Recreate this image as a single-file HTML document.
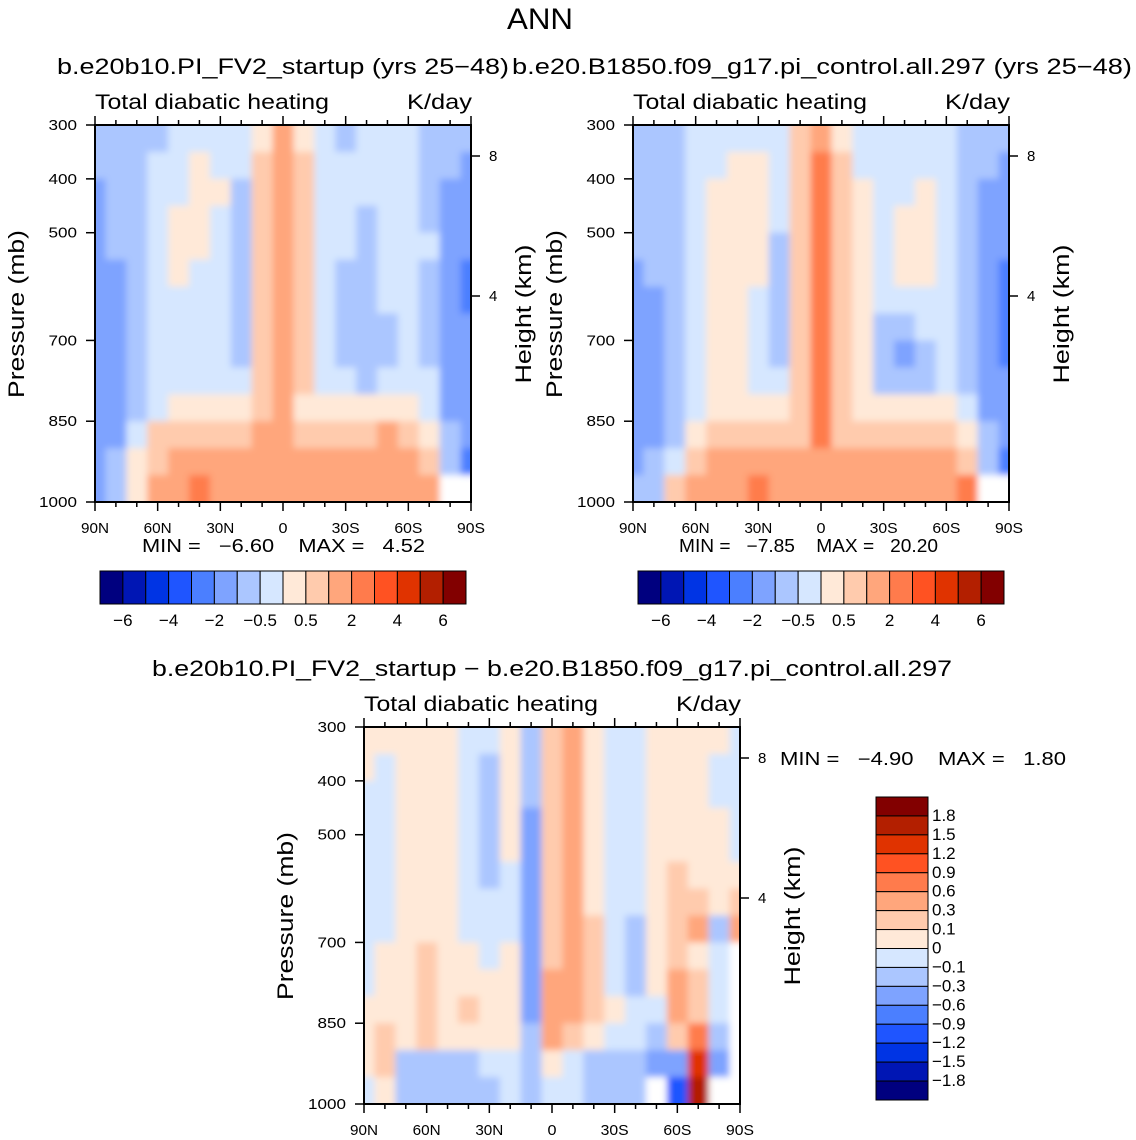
<!DOCTYPE html>
<html><head><meta charset="utf-8">
<style>
body{margin:0;background:#fff;}
svg{display:block;font-family:"Liberation Sans","DejaVu Sans",sans-serif;}
</style></head>
<body>
<svg id="chart" width="1136" height="1140" viewBox="0 0 1136 1140" xmlns="http://www.w3.org/2000/svg">
<defs><filter id="soft" x="-5%" y="-5%" width="110%" height="110%"><feGaussianBlur stdDeviation="3.5"/></filter></defs>
</svg>
<script>
const lats = [90,80,70,60,50,40,30,20,10,0,-10,-20,-30,-40,-50,-60,-70,-80,-90];
const plevs = [325,375,425,475,525,575,625,675,725,775,825,875,925,975];
const levelsTop = [-6,-5,-4,-3,-2,-1,-0.5,0,0.5,1,2,3,4,5,6];
const levelsDiff = [-1.8,-1.5,-1.2,-0.9,-0.6,-0.3,-0.1,0,0.1,0.3,0.6,0.9,1.2,1.5,1.8];
const cbLabelsTop = ["-6","-4","-2","-0.5","0.5","2","4","6"];
const cbLabelsDiff = ["1.8","1.5","1.2","0.9","0.6","0.3","0.1","0","-0.1","-0.3","-0.6","-0.9","-1.2","-1.5","-1.8"];
const colors = ["#00007f","#0016b4","#0034e4","#1f55ff","#4b7fff","#7ea3ff","#abc6ff","#d6e7ff","#ffe9d8","#ffcbad","#ffa67c","#ff7b4c","#ff5222","#e03300","#b31f00","#820000"];
const xTickLabels = ["90N","60N","30N","0","30S","60S","90S"];
const pTicks = [300,400,500,700,850,1000];

const field1 = [
[-1,-1,-1,-0.7,-0.3,-0.3,-0.3,-0.3,0.3,1.5,0.3,-0.3,-0.7,-0.3,-0.3,-0.3,-0.7,-1,-1],
[-1,-1,-0.7,-0.3,-0.3,0.3,-0.3,-0.3,0.7,1.5,0.7,-0.3,-0.3,-0.3,-0.3,-0.3,-0.7,-1,-1.5],
[-1.5,-1,-0.7,-0.3,-0.3,0.3,0.3,-0.7,0.7,1.5,0.7,-0.3,-0.3,-0.3,-0.3,-0.3,-0.7,-1.5,-1.5],
[-1.5,-1,-0.7,-0.3,0.3,0.3,-0.3,-0.7,0.7,1.5,0.7,-0.3,-0.3,-0.7,-0.3,-0.3,-0.7,-1.5,-2],
[-1.5,-1,-0.7,-0.3,0.3,0.3,-0.3,-0.7,0.7,1.5,0.7,-0.3,-0.3,-0.7,-0.3,-0.3,-0.3,-1.5,-2],
[-1.5,-1.5,-0.7,-0.3,0.3,-0.3,-0.3,-0.7,0.7,1.5,0.7,-0.3,-0.7,-0.7,-0.3,-0.3,-0.7,-1.5,-3],
[-1.5,-1.5,-0.7,-0.3,-0.3,-0.3,-0.3,-0.7,0.7,1.5,0.7,-0.3,-0.7,-0.7,-0.3,-0.3,-0.7,-1.5,-3],
[-2,-1.5,-0.7,-0.3,-0.3,-0.3,-0.3,-0.7,0.7,1.5,0.7,-0.3,-0.7,-0.7,-0.7,-0.3,-0.7,-1.5,-2],
[-2,-1.5,-0.7,-0.3,-0.3,-0.3,-0.3,-0.7,0.7,1.5,0.7,-0.3,-0.7,-0.7,-0.7,-0.3,-0.7,-1.5,-2],
[-2,-1.5,-0.7,-0.3,-0.3,-0.3,-0.3,-0.3,0.7,1.5,0.7,-0.3,-0.3,-0.7,-0.3,-0.3,-0.3,-1.5,-2],
[-2,-1.5,-0.7,-0.3,0.3,0.3,0.3,0.3,0.7,1.5,0.3,0.3,0.3,0.3,0.3,0.3,-0.3,-1.5,-2],
[-2,-1.5,-0.3,0.7,0.7,0.7,0.7,0.7,1.5,1.5,0.7,0.7,0.7,0.7,1.5,0.7,0.3,-1,-2],
[-2,-1,0.3,0.7,1.5,1.5,1.5,1.5,1.5,1.5,1.5,1.5,1.5,1.5,1.5,1.5,0.7,-1,-3],
[-1.5,-0.7,0.3,1.5,1.5,2.5,1.5,1.5,1.5,1.5,1.5,1.5,1.5,1.5,1.5,1.5,1.5,null,null]
];
const field2 = [
[-1,-1,-0.7,-0.3,-0.3,-0.3,-0.3,-0.3,0.7,1.5,0.3,-0.3,-0.3,-0.3,-0.3,-0.3,-0.7,-1,-1],
[-1,-1,-0.7,-0.3,-0.3,0.3,0.3,-0.3,0.7,2.5,0.7,-0.3,-0.3,-0.3,-0.3,-0.3,-0.7,-1,-1.5],
[-1,-1,-0.7,-0.3,0.3,0.3,0.3,-0.3,0.7,2.5,0.7,0.3,-0.3,-0.3,0.3,-0.3,-0.7,-1.5,-1.5],
[-1,-1,-0.7,-0.3,0.3,0.3,0.3,-0.3,0.7,2.5,0.7,0.3,-0.3,0.3,0.3,-0.3,-0.7,-1.5,-2],
[-1,-1,-0.7,-0.3,0.3,0.3,0.3,-0.7,0.7,2.5,0.7,0.3,-0.3,0.3,0.3,-0.3,-0.7,-1.5,-2],
[-1.5,-1,-0.7,-0.3,0.3,0.3,0.3,-0.7,0.7,2.5,0.7,0.3,-0.3,0.3,0.3,-0.3,-0.7,-1.5,-3],
[-1.5,-1.5,-0.7,-0.3,0.3,0.3,-0.3,-0.7,0.7,2.5,0.7,0.3,-0.3,-0.3,-0.3,-0.3,-0.7,-1.5,-3],
[-2,-1.5,-0.7,-0.3,0.3,0.3,-0.3,-0.7,0.7,2.5,0.7,0.3,-0.7,-0.7,-0.3,-0.3,-0.7,-1.5,-3],
[-2,-1.5,-0.7,-0.3,0.3,0.3,-0.3,-0.7,0.7,2.5,0.7,0.3,-0.7,-1.5,-0.7,-0.3,-0.7,-1.5,-3],
[-2,-1.5,-0.7,-0.3,0.3,0.3,-0.3,-0.3,0.7,2.5,0.7,0.3,-0.7,-0.7,-0.7,-0.3,-0.7,-1.5,-2],
[-2,-1.5,-0.7,-0.3,0.3,0.3,0.3,0.3,0.7,2.5,0.7,0.3,0.3,0.3,0.3,0.3,-0.3,-1.5,-2],
[-2,-1.5,-0.7,0.3,0.7,0.7,0.7,0.7,0.7,2.5,0.7,0.7,0.7,0.7,0.7,0.7,0.3,-1,-2],
[-1.5,-1,-0.3,0.7,1.5,1.5,1.5,1.5,1.5,1.5,1.5,1.5,1.5,1.5,1.5,1.5,0.7,-1,-3],
[-1,-0.7,0.7,1.5,1.5,1.5,2.5,1.5,1.5,1.5,1.5,1.5,1.5,1.5,1.5,1.5,2.5,null,null]
];
const field3 = [
[0.05,0.05,0.05,0.05,0.05,-0.05,-0.05,0.05,-0.2,0.2,0.4,0.05,-0.05,-0.05,0.05,0.05,0.05,0.05,-0.05],
[0.05,-0.05,0.05,0.05,0.05,-0.05,-0.2,0.05,-0.2,0.2,0.4,0.05,-0.05,-0.05,0.05,0.05,0.05,-0.05,-0.05],
[-0.05,-0.05,0.05,0.05,0.05,-0.05,-0.2,0.05,-0.2,0.2,0.4,0.05,-0.05,-0.05,0.05,0.05,0.05,-0.05,-0.05],
[-0.05,-0.05,0.05,0.05,0.05,-0.05,-0.2,0.05,-0.4,0.2,0.4,0.05,-0.05,-0.05,0.05,0.05,0.05,0.05,-0.05],
[-0.05,-0.05,0.05,0.05,0.05,-0.05,-0.2,0.05,-0.4,0.2,0.4,0.05,-0.05,-0.05,0.05,0.05,0.05,0.05,-0.05],
[-0.05,-0.05,0.05,0.05,0.05,-0.05,-0.2,-0.05,-0.4,0.2,0.4,0.05,-0.05,-0.05,0.05,0.2,0.05,0.05,0.05],
[-0.05,-0.05,0.05,0.05,0.05,-0.05,-0.05,-0.05,-0.4,0.2,0.4,0.05,-0.05,-0.05,0.05,0.2,0.2,0.05,0.2],
[-0.05,-0.05,0.05,0.05,0.05,-0.05,-0.05,-0.05,-0.4,0.2,0.4,0.2,-0.05,-0.2,0.05,0.2,0.4,-0.2,0.4],
[-0.05,0.05,0.05,0.2,0.05,0.05,-0.05,0.05,-0.4,0.2,0.4,0.2,-0.05,-0.2,0.05,0.2,0.05,-0.05,null],
[-0.05,0.05,0.05,0.2,0.05,0.05,0.05,0.05,-0.4,0.4,0.4,0.2,-0.05,-0.2,0.05,0.4,0.2,-0.05,null],
[0.05,0.05,0.05,0.2,0.05,0.2,0.05,0.05,-0.4,0.4,0.4,0.2,0.05,-0.05,-0.05,0.4,0.2,-0.05,null],
[0.05,0.2,0.05,0.2,0.05,0.05,0.05,0.05,-0.2,0.4,0.2,0.05,-0.05,-0.05,-0.2,0.2,0.7,-0.2,null],
[0.05,0.2,-0.2,-0.2,-0.2,-0.2,-0.05,-0.05,-0.2,0.05,-0.05,-0.2,-0.2,-0.2,-0.4,-0.4,1.3,-0.4,null],
[-0.05,0.05,-0.2,-0.2,-0.2,-0.2,-0.2,-0.05,-0.2,-0.05,-0.05,-0.2,-0.2,-0.2,null,-1.0,1.6,null,null]
];

const svg = document.getElementById('chart');
const NS = 'http://www.w3.org/2000/svg';
function mk(tag, attrs, parent){
  const e = document.createElementNS(NS, tag);
  for (const k in attrs) e.setAttribute(k, attrs[k]);
  (parent||svg).appendChild(e);
  return e;
}
function txt(s, x, y, size, anchor, parent, rot, len){
  const t = mk('text', {x:x, y:y, 'font-size':size, 'text-anchor':anchor||'middle', fill:'#000'}, parent);
  if (rot) t.setAttribute('transform', 'rotate(-90 '+x+' '+y+')');
  if (len){ t.setAttribute('textLength', len); t.setAttribute('lengthAdjust', 'spacingAndGlyphs'); }
  t.textContent = s;
  return t;
}
function colorFor(v, levels){
  let i = 0;
  while (i < levels.length && v >= levels[i]) i++;
  return colors[i];
}

let t;
t = txt('ANN', 540, 29, 30, 'middle', null, false, 66);



let clipId = 0;
function panel(name, x0, y0, field, levels, title, titleX, titleLen){
  const W = 376, H = 377;
  const g = mk('g', {});
  
  
  const xs = lat => x0 + (90 - lat) / 180 * W;
  const ys = p => y0 + (p - 300) / 700 * H;
  clipId++;
  const cp = mk('clipPath', {id:'clip'+clipId}, g);
  mk('rect', {x:x0, y:y0, width:W, height:H}, cp);
  const outer = mk('g', {'clip-path':'url(#clip'+clipId+')'}, g);
  const cells = mk('g', {filter:'url(#soft)'}, outer);
  
  
  for (let r = 0; r < plevs.length; r++){
    for (let c = 0; c < lats.length; c++){
      const v = field[r][c];
      const la = Math.min(90, lats[c] + 5), lb = Math.max(-90, lats[c] - 5);
      const pa = Math.max(300, plevs[r] - 25), pb = Math.min(1000, plevs[r] + 25);
      let ex = 0, ey = 0;
      if (c === 0) { ex = 8; }
      const cell = mk('rect', {x:xs(la)-ex, y:ys(pa)-(r===0?8:0), width:xs(lb)-xs(la)+0.6+ex+(c===lats.length-1?8:0), height:ys(pb)-ys(pa)+0.6+(r===0?8:0)+(r===plevs.length-1?8:0), fill: v===null ? '#ffffff' : colorFor(v, levels)}, cells);
      
      
    }
  }
  const frame = mk('rect', {x:x0, y:y0, width:W, height:H, fill:'none', stroke:'#000', 'stroke-width':2}, g);
  
  
  for (let lat = 90; lat >= -90; lat -= 10){
    const major = lat % 30 === 0;
    const L = major ? 9 : 5;
    mk('line', {x1:xs(lat), x2:xs(lat), y1:y0+H, y2:y0+H+L, stroke:'#000', 'stroke-width':1.5}, g);
    mk('line', {x1:xs(lat), x2:xs(lat), y1:y0, y2:y0-L, stroke:'#000', 'stroke-width':1.5}, g);
  }
  xTickLabels.forEach((s, i) => {
    const tl = txt(s, xs(90 - i*30), y0+H+31, 15, 'middle', g, false, s.length === 1 ? 9 : 28);
    
    
  });
  pTicks.forEach(p => {
    mk('line', {x1:x0, x2:x0-9, y1:ys(p), y2:ys(p), stroke:'#000', 'stroke-width':1.5}, g);
    const tl = txt(String(p), x0-18, ys(p)+5, 15, 'end', g, false, String(p).length * 9.5);
    
    
  });
  [[8,31],[4,171]].forEach(h => {
    mk('line', {x1:x0+W, x2:x0+W+9, y1:y0+h[1], y2:y0+h[1], stroke:'#000', 'stroke-width':1.5}, g);
    const tl = txt(String(h[0]), x0+W+18, y0+h[1]+5, 15, 'start', g);
    
    
  });
  t = txt('Pressure (mb)', x0-71, y0+189, 22, 'middle', g, true, 168);
  
  
  t = txt('Height (km)', x0+W+60, y0+189, 22, 'middle', g, true, 139);
  
  
  t = txt('Total diabatic heating', x0, y0-16, 21, 'start', g, false, 234);
  
  
  t = txt('K/day', x0+W+1, y0-16, 21, 'end', g, false, 65);
  
  
  t = txt(title, titleX, y0-51, 22, 'middle', g, false, titleLen);
  
  
  return g;
}

panel('control-panel-left', 95, 125, field1, levelsTop, 'b.e20b10.PI_FV2_startup (yrs 25\u221248)', 283, 452);
panel('control-panel-right', 633, 125, field2, levelsTop, 'b.e20.B1850.f09_g17.pi_control.all.297 (yrs 25\u221248)', 822, 620);
panel('difference-panel', 364, 727, field3, levelsDiff, 'b.e20b10.PI_FV2_startup \u2212 b.e20.B1850.f09_g17.pi_control.all.297', 552, 800);

function minmax(name, x, y, mn, mx, len){
  t = txt('MIN =   ' + mn + '    MAX =   ' + mx, x, y, 18, 'start', null, false, len);
  
  
  t.style.whiteSpace = 'pre';
}
minmax('min-max-left', 142, 552, '\u22126.60', '4.52', 283);
minmax('min-max-right', 679, 552, '\u22127.85', '20.20', 259);
minmax('min-max-diff', 780, 765, '\u22124.90', '1.80', 286);

function hbar(name, x0){
  const g = mk('g', {});
  
  
  const bw = 366/16;
  colors.forEach((c, i) => {
    const b = mk('rect', {x:x0+i*bw, y:571, width:bw, height:33, fill:c, stroke:'#000', 'stroke-width':1}, g);
    
    
  });
  cbLabelsTop.forEach((s, i) => {
    const tl = txt(s.replace('-', '\u2212'), x0 + (1 + 2*i)*bw, 626, 17, 'middle', g);
    
    
  });
}
hbar('colorbar-left', 100);
hbar('colorbar-right', 638);

(function(){
  const g = mk('g', {});
  
  
  const bh = 303/16;
  colors.slice().reverse().forEach((c, i) => {
    const b = mk('rect', {x:876, y:797+i*bh, width:52, height:bh, fill:c, stroke:'#000', 'stroke-width':1}, g);
    
    
  });
  cbLabelsDiff.forEach((s, i) => {
    const tl = txt(s.replace('-', '\u2212'), 932, 797 + (i+1)*bh + 5, 17, 'start', g);
    
    
  });
})();
</script>
</body></html>
